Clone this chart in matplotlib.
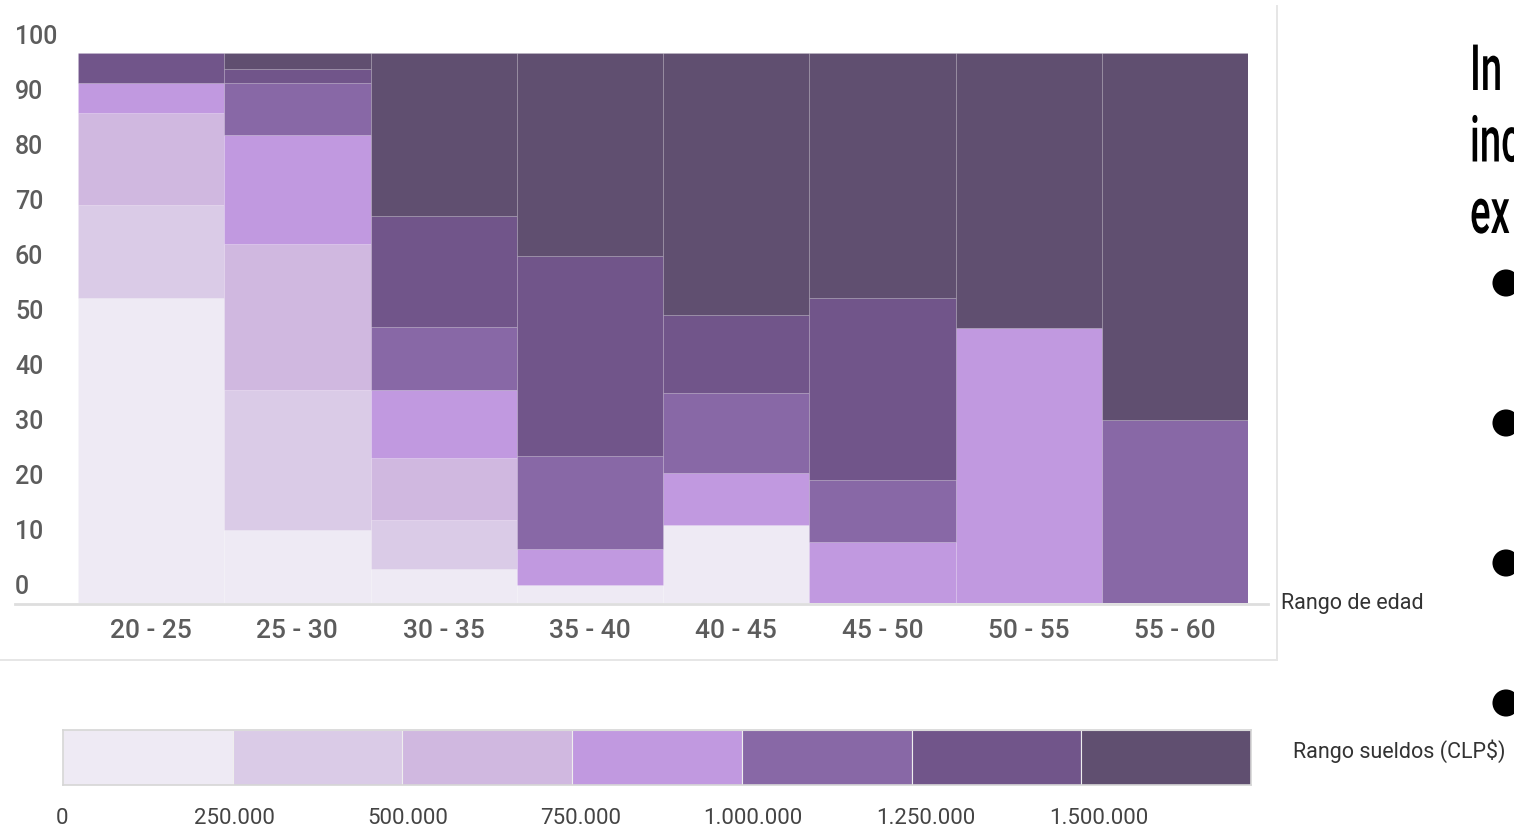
import matplotlib
matplotlib.use("Agg")
import matplotlib.pyplot as plt
from matplotlib.patheffects import AbstractPathEffect
from matplotlib.transforms import Affine2D, ScaledTranslation, blended_transform_factory

# ---- data -------------------------------------------------------------
age_groups = ["20 - 25", "25 - 30", "30 - 35", "35 - 40",
              "40 - 45", "45 - 50", "50 - 55", "55 - 60"]

salary_bins = ["0 - 250.000", "250.000 - 500.000", "500.000 - 750.000",
               "750.000 - 1.000.000", "1.000.000 - 1.250.000",
               "1.250.000 - 1.500.000", "1.500.000+"]
salary_edges = ["0", "250.000", "500.000", "750.000",
                "1.000.000", "1.250.000", "1.500.000"]

# share (%) of each age group in every salary bin
share_0_250k = [55.5, 13.3, 6.2, 3.3, 14.2, 0.0, 0.0, 0.0]
share_250k_500k = [16.9, 25.5, 8.9, 0.0, 0.0, 0.0, 0.0, 0.0]
share_500k_750k = [16.7, 26.5, 11.3, 0.0, 0.0, 0.0, 0.0, 0.0]
share_750k_1m = [5.5, 19.8, 12.4, 6.5, 9.5, 11.1, 50.0, 0.0]
share_1m_125m = [0.0, 9.5, 11.3, 16.9, 14.4, 11.3, 0.0, 33.3]
share_125m_15m = [5.4, 2.5, 20.2, 36.4, 14.2, 33.1, 0.0, 0.0]
share_15m_plus = [0.0, 2.9, 29.7, 36.9, 47.7, 44.5, 50.0, 66.7]

shares = [share_0_250k, share_250k_500k, share_500k_750k, share_750k_1m,
          share_1m_125m, share_125m_15m, share_15m_plus]

bin_colors = ["#eeeaf4", "#dacbe7", "#d0b8e0", "#c199e0",
              "#8868a6", "#71558a", "#604f70"]

y_ticks = [0, 10, 20, 30, 40, 50, 60, 70, 80, 90, 100]

side_lines = ["In", "inc", "ex"]


class TallGlyphs(AbstractPathEffect):
    """Stretch text glyphs vertically about their baseline (narrow look)."""

    def __init__(self, factor):
        super().__init__()
        self._factor = factor

    def draw_path(self, renderer, gc, tpath, affine, rgbFace=None):
        renderer.draw_path(gc, tpath,
                           Affine2D().scale(1.0, self._factor) + affine,
                           rgbFace)


W, H = 1514, 827
fig = plt.figure(figsize=(W / 100, H / 100), dpi=100)
fig.patch.set_facecolor("white")

# pixel-space layer for frame lines, side text and bullets
deco = fig.add_axes([0, 0, 1, 1], zorder=0)
deco.set_xlim(0, W)
deco.set_ylim(H, 0)
deco.axis("off")

frame_col = "#e6e6e6"
deco.plot([1277, 1277], [6, 660], color=frame_col, lw=1.4)
deco.plot([0, 1277], [660, 660], color=frame_col, lw=1.4)
deco.plot([15, 1268], [603.5, 603.5], color="#dedede", lw=2.0)

# ---- main stacked chart ---------------------------------------------
left, right, top, bottom = 78, 1248, 53, 603
ax = fig.add_axes([left / W, (H - bottom) / H,
                   (right - left) / W, (bottom - top) / H], zorder=2)
ax.set_xlim(-0.5, len(age_groups) - 0.5)
ax.set_ylim(0, 100)
ax.axis("off")

xs = list(range(len(age_groups)))
base = [0.0] * len(age_groups)
for vals, col in zip(shares, bin_colors):
    for i, v in enumerate(vals):
        if v > 0:
            ax.bar(xs[i], v, bottom=base[i], width=1.0, color=col,
                   edgecolor=(1, 1, 1, 0.1), linewidth=0.8)
    base = [b + v for b, v in zip(base, vals)]

tick_col = "#5c5c5c"
ytrans = blended_transform_factory(fig.transFigure, ax.transData) + \
    ScaledTranslation(0, 16 / 100, fig.dpi_scale_trans)
for t in y_ticks:
    ax.text(15 / W, t, str(t), transform=ytrans, ha="left", va="center",
            fontsize=18, fontweight="medium", color=tick_col,
            family="Roboto", clip_on=False)

for i, lab in enumerate(age_groups):
    ax.text(xs[i], -5.1, lab, ha="center", va="center", fontsize=19,
            fontweight="medium", color=tick_col, family="Roboto",
            clip_on=False)

deco.text(1281, 603, "Rango de edad", ha="left", va="center",
          fontsize=15.5, color="#333333", family="Roboto")

# ---- colour legend ---------------------------------------------------
lg_left, lg_right, lg_top, lg_bottom = 63, 1251, 730, 785
lax = fig.add_axes([lg_left / W, (H - lg_bottom) / H,
                    (lg_right - lg_left) / W, (lg_bottom - lg_top) / H],
                   zorder=2)
lax.set_xlim(0, len(salary_bins))
lax.set_ylim(0, 1)
for i, col in enumerate(bin_colors):
    lax.barh(0.5, 1.0, left=i, height=1.0, color=col,
             edgecolor="#eeeeee", linewidth=0.8)
lax.set_xticks([])
lax.set_yticks([])
for s in lax.spines.values():
    s.set_color("#d6d6d6")
    s.set_linewidth(1.2)

# legend value labels sit on a slightly wider value scale than the swatches
for i, lab in enumerate(salary_edges):
    tr = lax.transData + ScaledTranslation((i * 3.1 - 1) / 100, 0,
                                           fig.dpi_scale_trans)
    lax.text(i, -0.6, lab, transform=tr, ha="center", va="center",
             fontsize=16, color="#444444", family="Roboto", clip_on=False)

deco.text(1293, 751, "Rango sueldos (CLP$)", ha="left", va="center",
          fontsize=15.5, color="#333333", family="Roboto")

# ---- slide side text and bullets --------------------------------------
for k, line in enumerate(side_lines):
    deco.text(1470, 90 + k * 71.5, line, ha="left", va="baseline",
              fontsize=27.6, fontweight="medium", color="black",
              family="Roboto", path_effects=[TallGlyphs(1 / 0.6)])

deco.scatter([1506] * 4, [283, 423, 563, 703], s=380, color="black",
             edgecolors="none", clip_on=False)

fig.savefig("out.png", dpi=100, facecolor="white")
